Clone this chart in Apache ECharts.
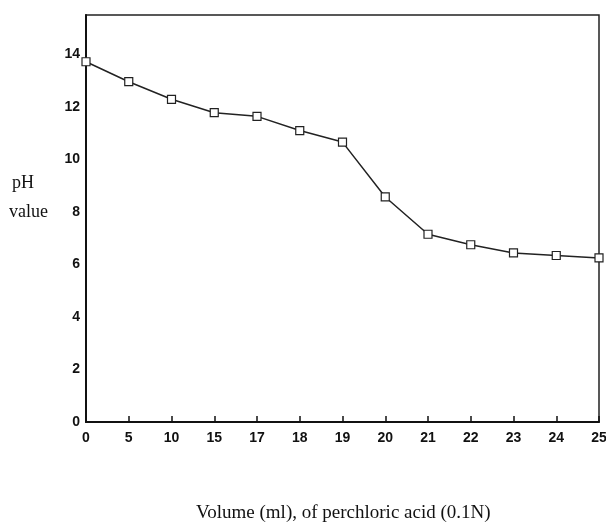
<!DOCTYPE html>
<html>
<head>
<meta charset="utf-8">
<title>pH titration curve</title>
<script src="https://cdn.jsdelivr.net/npm/echarts@6/dist/echarts.min.js"></script>
<style>
  html, body { margin: 0; padding: 0; background: #fff; }
  #chart { width: 606px; height: 532px; }
</style>
</head>
<body>
<div id="chart"></div>
<script>
// 滴定体积 (ml) 与 pH
const volumes = ['0', '5', '10', '15', '17', '18', '19', '20', '21', '22', '23', '24', '25']
const phValues = [13.72, 12.96, 12.29, 11.78, 11.64, 11.1, 10.66, 8.57, 7.15, 6.75, 6.44, 6.34, 6.25]
const yTicks = [0, 2, 4, 6, 8, 10, 12, 14]

const chart = echarts.init(document.getElementById('chart'))

const labelFont = {
  color: '#111',
  fontFamily: 'Liberation Sans',
  fontWeight: 'bold',
  fontSize: 14,
}

chart.setOption({
  animation: false,
  grid: {
    left: 86,
    right: 7,
    top: 15,
    bottom: 110,
    outerBoundsMode: 'none',
    show: true,
    borderColor: '#222',
    borderWidth: 1.5,
  },
  xAxis: {
    type: 'category',
    data: volumes,
    boundaryGap: false,
    axisLine: { lineStyle: { color: '#111', width: 2 } },
    axisTick: { inside: true, length: 6, lineStyle: { color: '#111', width: 1.5 } },
    axisLabel: { ...labelFont, margin: 9 },
    splitLine: { show: false },
  },
  yAxis: {
    type: 'value',
    min: 0,
    max: 15.5,
    axisLine: { show: true, lineStyle: { color: '#111', width: 2 } },
    axisTick: { inside: true, length: 4, customValues: yTicks, lineStyle: { color: '#111', width: 1 } },
    axisLabel: { ...labelFont, margin: 6, customValues: yTicks },
    splitLine: { show: false },
  },
  graphic: [
    {
      type: 'text',
      left: 12,
      top: 174,
      style: { text: 'pH', font: '18px "Liberation Serif"', fill: '#111' },
    },
    {
      type: 'text',
      left: 9,
      top: 203,
      style: { text: 'value', font: '18px "Liberation Serif"', fill: '#111' },
    },
    {
      type: 'text',
      left: 196,
      top: 504,
      style: { text: 'Volume (ml), of perchloric acid (0.1N)', font: '19px "Liberation Serif"', fill: '#111' },
    },
  ],
  series: [
    {
      type: 'line',
      data: phValues,
      symbol: 'rect',
      symbolSize: 8,
      showAllSymbol: true,
      lineStyle: { color: '#222', width: 1.5 },
      itemStyle: { color: '#fff', borderColor: '#222', borderWidth: 1.2 },
    },
  ],
})
</script>
</body>
</html>
